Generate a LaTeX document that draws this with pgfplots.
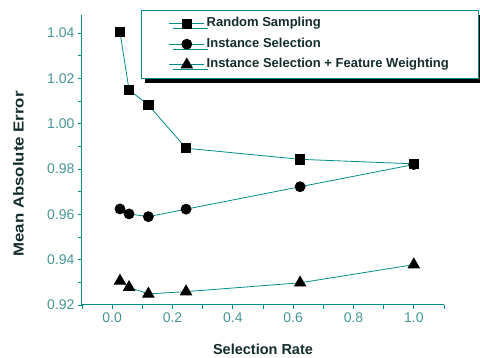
\documentclass[border=0pt]{standalone}
\usepackage{pgfplots}
\pgfplotsset{compat=1.18}
\usepackage{fontspec}
\setmainfont{Liberation Sans}
\newfontfamily\ylabfont[FakeStretch=1.16]{Liberation Sans}
\usetikzlibrary{shadows}
\definecolor{lineteal}{RGB}{0,140,140}
\definecolor{tickteal}{RGB}{70,150,150}
\definecolor{labdark}{RGB}{20,45,45}
\begin{document}
\begin{tikzpicture}
\begin{axis}[
  scale only axis, width=362pt, height=290pt,
  xmin=-0.1, xmax=1.1, ymin=0.92, ymax=1.048,
  axis lines*=left,
  axis line style={lineteal, line width=1pt},
  xtick={0,0.2,0.4,0.6,0.8,1.0},
  minor xtick={-0.1,0.1,0.3,0.5,0.7,0.9,1.1},
  ytick={0.92,0.94,0.96,0.98,1.00,1.02,1.04},
  minor ytick={0.93,0.95,0.97,0.99,1.01,1.03},
  tick align=outside, major tick length=4pt, minor tick length=4pt,
  tick style={lineteal, line width=0.8pt},
  /pgf/number format/assume math mode=true,
  ticklabel style={font=\fontsize{14}{16}\selectfont, text=tickteal},
  xticklabel style={/pgf/number format/.cd, fixed, fixed zerofill, precision=1},
  yticklabel style={/pgf/number format/.cd, fixed, fixed zerofill, precision=2},
  xlabel={Selection Rate},
  ylabel={Mean Absolute Error},
  every axis x label/.style={at={(axis description cs:0.5,0)}, anchor=base, yshift=-50pt, font=\fontsize{14.5}{16}\selectfont\bfseries, text=labdark},
  every axis y label/.style={at={(axis description cs:-0.1754,0.452)}, anchor=center, rotate=90, font=\ylabfont\fontsize{14.5}{16}\selectfont\bfseries, text=labdark},
  clip=false,
  legend cell align=left,
  legend image code/.code={\draw[mark repeat=2,mark phase=2,#1] plot coordinates {(0pt,0pt) (17.5pt,0pt) (35pt,0pt)};},
  legend style={at={(axis description cs:0.163,1.017)}, anchor=north west,
    draw=lineteal, line width=0.8pt, fill=white,
    font=\fontsize{13}{15}\selectfont\bfseries, text=labdark,
    inner xsep=27.5pt, inner ysep=5pt, row sep=4pt,
    nodes={inner sep=2pt, text height=9.5pt, text depth=3pt},
    drop shadow={shadow xshift=4pt, shadow yshift=-5pt, fill=black, opacity=1}},
]
\addplot[lineteal, line width=0.8pt, mark=square*, mark size=4.6pt, mark options={fill=black, draw=black, solid}] coordinates {
 (0.026,1.0404) (0.056,1.0149) (0.12,1.0083) (0.245,0.9892) (0.623,0.9843) (1.0,0.9823)};
\addlegendentry{Random Sampling}
\addplot[lineteal, line width=0.8pt, mark=*, mark size=5pt, mark options={fill=black, draw=black, solid}] coordinates {
 (0.026,0.9624) (0.056,0.9602) (0.12,0.9590) (0.245,0.9623) (0.623,0.9722) (1.0,0.9820)};
\addlegendentry{Instance Selection}
\addplot[lineteal, line width=0.8pt, mark=triangle*, mark size=6.5pt, mark options={fill=black, draw=black, solid}] coordinates {
 (0.026,0.9306) (0.056,0.9278) (0.12,0.9249) (0.245,0.9259) (0.623,0.9298) (1.0,0.9378)};
\addlegendentry{Instance Selection + Feature Weighting}
\end{axis}
\pgfresetboundingbox
\path[use as bounding box] ([xshift=-82pt,yshift=-53pt]current axis.south west) rectangle ++(480pt,358pt);
\end{tikzpicture}
\end{document}
